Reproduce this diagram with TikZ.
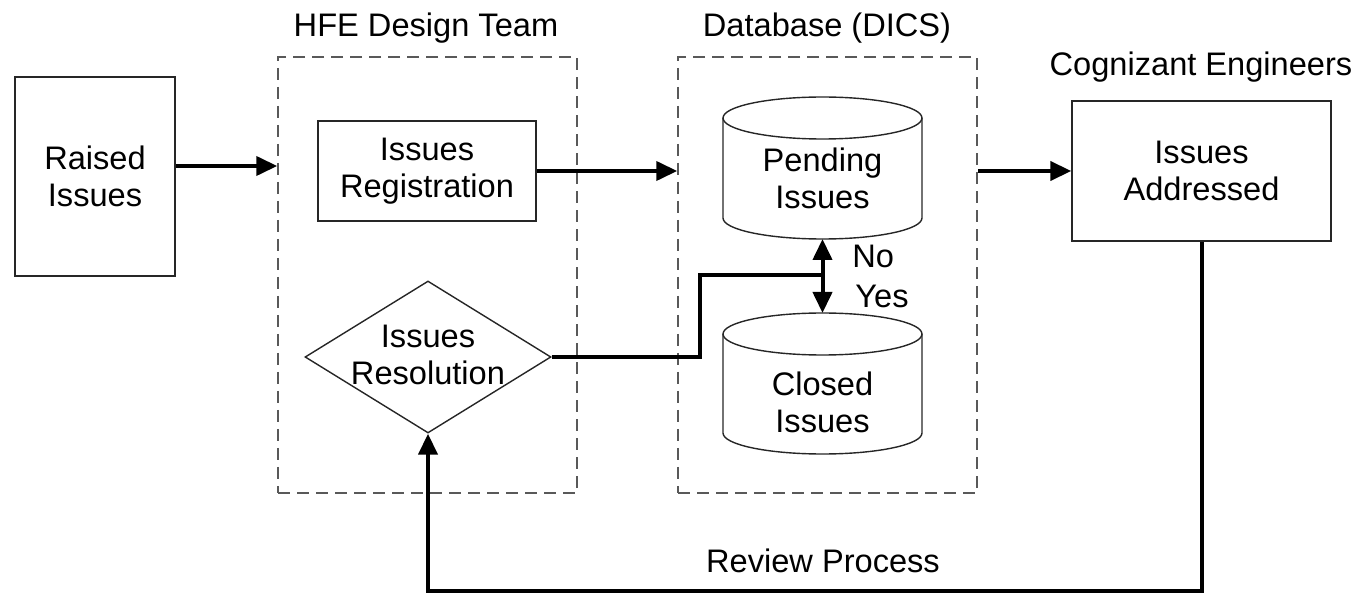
\documentclass[tikz,border=0pt]{standalone}
\usepackage{fontspec}
\setmainfont{Liberation Sans}
\usetikzlibrary{arrows.meta,shapes.geometric,calc}
\begin{document}
\begin{tikzpicture}[x=0.5pt,y=-0.5pt,
  font=\fontsize{16.3pt}{18.5pt}\selectfont,
  box/.style={draw=black!85, line width=0.7pt, align=center, inner sep=0pt},
  group/.style={draw=black!65, line width=0.75pt, dash pattern=on 6pt off 3.5pt, inner sep=0pt},
  arr/.style={line width=2pt, -{Triangle[length=10.5pt,width=9.5pt]}},
  darr/.style={line width=2pt, {Triangle[length=10.5pt,width=9.5pt]}-{Triangle[length=10.5pt,width=9.5pt]}},
  link/.style={line width=2pt},
  txt/.style={align=center, inner sep=0pt},
  cyl/.style={draw=black!85, line width=0.7pt}
]
\useasboundingbox (0,0) rectangle (1356,593);
% groups
\node[group, minimum width=149.5pt, minimum height=218pt] (hfe) at (427.5,275) {};
\node[group, minimum width=149.5pt, minimum height=218pt] (db) at (827.5,275) {};
\node[txt, anchor=base] (hfet) at (426,37) {HFE Design Team};
\node[txt, anchor=base] (dbt) at (827,37) {Database (DICS)};
\node[txt, anchor=base] (cogt) at (1201,76) {Cognizant Engineers};
% boxes
\node[box, minimum width=80pt, minimum height=99.5pt] (raised) at (95,176.5) {Raised\\Issues};
\node[box, minimum width=109pt, minimum height=50pt] (reg) at (427,171) {Issues\\Registration};
\node[box, minimum width=129.5pt, minimum height=70pt] (addr) at (1201.5,171) {Issues\\Addressed};
\node[diamond, draw=black!85, line width=0.7pt, minimum width=123pt, minimum height=76pt, inner sep=0pt] (res) at (428,357) {};
\node[txt] (restxt) at (428,355) {Issues\\Resolution};
% cylinders
\draw[cyl] (822.5,118) ellipse [x radius=49.75pt, y radius=10.5pt];
\draw[cyl] (723,118) -- (723,218) arc[start angle=180, end angle=360, x radius=49.75pt, y radius=10.5pt] -- (922,118);
\coordinate (pendbot) at (822.5,239);
\node[txt] (pend) at (822.5,178) {Pending\\Issues};
\draw[cyl] (822.5,334) ellipse [x radius=49.75pt, y radius=10.5pt];
\draw[cyl] (723,334) -- (723,433) arc[start angle=180, end angle=360, x radius=49.75pt, y radius=10.5pt] -- (922,334);
\coordinate (closedtop) at (822.5,313);
\node[txt] (closed) at (822.5,402) {Closed\\Issues};
% connectors
\draw[arr] (raised.east |- 0,166) -- (hfe.west |- 0,166);
\draw[arr] (reg.east) -- (reg.east -| db.west);
\draw[arr] (db.east |- addr.west) -- (addr.west);
\draw[darr] (pendbot) -- (closedtop);
\coordinate (jn) at (822.5,275);
\coordinate (bend) at (700,275);
\draw[link] (res.east) -| (bend) -- (jn);
\coordinate (fb) at (1201.5,591);
\draw[arr] (addr.south) -- (fb) -| (res.south);
% labels
\node[txt, anchor=base west] (no) at (852,268) {No};
\node[txt, anchor=base west] (yes) at (855,308) {Yes};
\node[txt, anchor=base] (rev) at (823,572) {Review Process};
\end{tikzpicture}
\end{document}
